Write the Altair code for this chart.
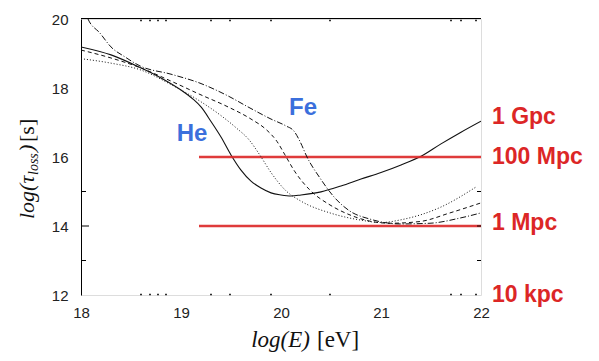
import altair as alt
import pandas as pd

# ---- data ----
he_x = [18.0, 18.3, 18.6, 18.8, 19.0, 19.12, 19.2, 19.3, 19.4, 19.5, 19.6, 19.7, 19.8, 19.9,
        20.0, 20.1, 20.2, 20.4, 20.6, 20.8, 21.0, 21.2, 21.4, 21.6, 21.8, 22.0]
he_y = [19.19, 18.96, 18.58, 18.29, 17.94, 17.68, 17.45, 17.03, 16.58, 16.06, 15.62, 15.3, 15.1, 14.96,
        14.9, 14.87, 14.9, 14.99, 15.16, 15.36, 15.55, 15.77, 16.02, 16.38, 16.72, 17.04]

dot_x = [18.0, 18.3, 18.6, 18.9, 19.2, 19.4, 19.55, 19.68, 19.79, 19.9, 20.05, 20.2, 20.5, 20.8,
         21.0, 21.2, 21.6, 21.95]
dot_y = [18.85, 18.72, 18.52, 18.1, 17.6, 17.2, 16.85, 16.5, 16.05, 15.55, 15.02, 14.72, 14.37, 14.17,
         14.1, 14.18, 14.55, 15.13]

dash_x = [18.0, 18.3, 18.6, 18.9, 19.2, 19.45, 19.7, 19.85, 19.96, 20.04, 20.14, 20.29, 20.49, 20.69,
          20.89, 21.09, 21.39, 21.69, 22.0]
dash_y = [19.1, 18.87, 18.58, 18.2, 17.8, 17.48, 17.1, 16.8, 16.45, 16.06, 15.57, 15.04, 14.61, 14.32,
          14.14, 14.08, 14.13, 14.38, 14.67]

fe_x = [18.03, 18.07, 18.19, 18.3, 18.44, 18.59, 18.9, 19.19, 19.45, 19.69, 19.9, 20.05, 20.13, 20.19,
        20.26, 20.39, 20.54, 20.69, 20.89, 21.19, 21.49, 21.79, 22.0]
fe_y = [20.3, 20.0, 19.59, 19.19, 18.9, 18.64, 18.4, 18.14, 17.8, 17.42, 17.1, 16.9, 16.75, 16.45,
        16.0, 15.39, 14.81, 14.43, 14.2, 14.06, 14.08, 14.23, 14.38]

ref_y = [16, 14]
ref_x_start = [19.18, 19.18]
ref_x_end = [22, 22]

dist_names = ["1 Gpc", "100 Mpc", "1 Mpc", "10 kpc"]
dist_y = [17.15, 16.0, 14.1, 12.0]

nuc_names = ["He", "Fe"]
nuc_x = [19.11, 20.22]
nuc_y = [16.67, 17.42]

x_labels = [18, 19, 20, 21, 22]
y_labels = [12, 14, 16, 18, 20]
minor_x = [18.6, 18.69, 18.77, 18.85, 19.3, 19.49, 19.9, 20.49, 21.7, 21.8, 21.95]
left_short = [13, 15]
left_long = [14]
right_ticks = [13, 14, 15]

# ---- chart ----
XS = alt.Scale(domain=[18, 22], nice=False, zero=False)
YS = alt.Scale(domain=[12, 20], nice=False, zero=False)
W, H = 400, 276
RED = "#dc2626"
BLUE = "#3b6fdc"

XA = alt.Axis(values=x_labels, ticks=False, tickSize=0, domain=False, labelPadding=10,
              labelFontSize=15, labelFont="Liberation Sans", labelColor="#222222",
              labelFlush=False, title=None, grid=False, format="d")
YA = alt.Axis(values=y_labels, ticks=False, tickSize=0, domain=True, domainColor="black",
              domainWidth=1, labelPadding=13, labelFontSize=15, labelFont="Liberation Sans",
              labelColor="#222222", labelFlush=False, title=None, grid=False, format="d")


def X(field):
    return alt.X(field, scale=XS, axis=XA)


def Y(field):
    return alt.Y(field, scale=YS, axis=YA)


def curve(xs, ys, dash=None, width=1.0):
    df = pd.DataFrame({"E": xs, "tau": ys})
    kw = dict(clip=True, color="#111111", strokeWidth=width, interpolate="monotone")
    if dash:
        kw["strokeDash"] = dash
    return alt.Chart(df).mark_line(**kw).encode(x=X("E:Q"), y=Y("tau:Q"))


he = curve(he_x, he_y, width=1.1)
dotted = curve(dot_x, dot_y, dash=[1, 2])
dashed = curve(dash_x, dash_y, dash=[4, 3])
fe = curve(fe_x, fe_y, dash=[6, 2, 1, 2])

ref_df = pd.DataFrame({"E": ref_x_start, "x2": ref_x_end, "tau": ref_y})
refs = alt.Chart(ref_df).mark_rule(color=RED, strokeWidth=2.5, opacity=0.9).encode(
    x=X("E:Q"), x2="x2:Q", y=Y("tau:Q")
)

dist_df = pd.DataFrame({"name": dist_names, "tau": dist_y, "E": [22] * len(dist_names)})
dist = alt.Chart(dist_df).mark_text(
    align="left", baseline="middle", dx=11, fontSize=23, fontWeight="bold",
    font="Liberation Sans", color=RED, clip=False
).encode(x=X("E:Q"), y=Y("tau:Q"), text="name:N")

nuc_df = pd.DataFrame({"name": nuc_names, "E": nuc_x, "tau": nuc_y})
nuc = alt.Chart(nuc_df).mark_text(
    align="center", baseline="middle", fontSize=24, fontWeight="bold",
    font="Liberation Sans", color=BLUE
).encode(x=X("E:Q"), y=Y("tau:Q"), text="name:N")

top_line = alt.Chart(pd.DataFrame({"a": [0]})).mark_rule(color="black", strokeWidth=1).encode(
    x=alt.value(0), x2=alt.value(W), y=alt.value(-0.5)
)

minor_df = pd.DataFrame({"E": minor_x})
top_dots = alt.Chart(minor_df).mark_square(size=3, color="#111111", opacity=1).encode(
    x=X("E:Q"), y=alt.value(1.5)
)
bot_dots = alt.Chart(minor_df).mark_square(size=3, color="#111111", opacity=1).encode(
    x=X("E:Q"), y=alt.value(H - 0.5)
)

lt_short = alt.Chart(pd.DataFrame({"tau": left_short})).mark_rule(color="black", strokeWidth=1).encode(
    y=Y("tau:Q"), x=alt.value(0), x2=alt.value(5)
)
lt_long = alt.Chart(pd.DataFrame({"tau": left_long})).mark_rule(color="black", strokeWidth=1).encode(
    y=Y("tau:Q"), x=alt.value(0), x2=alt.value(8)
)
rt = alt.Chart(pd.DataFrame({"tau": right_ticks})).mark_rule(color="black", strokeWidth=1).encode(
    y=Y("tau:Q"), x=alt.value(W - 4), x2=alt.value(W)
)


def label(text, x, y, size=22, italic=True, align="left", angle=0):
    kw = dict(text=text, fontSize=size, font="Liberation Serif", color="#111111",
              align=align, baseline="alphabetic")
    if italic:
        kw["fontStyle"] = "italic"
    if angle:
        kw["angle"] = angle
    return alt.Chart(pd.DataFrame({"a": [0]})).mark_text(**kw).encode(
        x=alt.value(x), y=alt.value(y)
    )


xt1 = label("log(E)", 229, 328, size=23, italic=True, align="right")
xt2 = label("[eV]", 236, 328, size=23, italic=False, align="left")
yt1 = label("log(\u03c4", -47, 200, size=22, italic=True, align="left", angle=270)
yt2 = label("loss", -43, 156, size=14, italic=True, align="left", angle=270)
yt3 = label(")", -47, 133, size=22, italic=True, align="left", angle=270)
yt4 = label("[s]", -47, 123, size=22, italic=False, align="left", angle=270)

chart = alt.layer(
    he, refs, dotted, dashed, fe, dist, nuc, top_line, top_dots, bot_dots,
    lt_short, lt_long, rt, xt1, xt2, yt1, yt2, yt3, yt4
).properties(
    width=W, height=H,
    autosize=alt.AutoSizeParams(type="none"),
    padding={"left": 73, "top": 11, "right": 110, "bottom": 58},
).configure_view(stroke=None).configure(background="white")

chart.save("out.html", embed_options={"renderer": "svg", "actions": False})
